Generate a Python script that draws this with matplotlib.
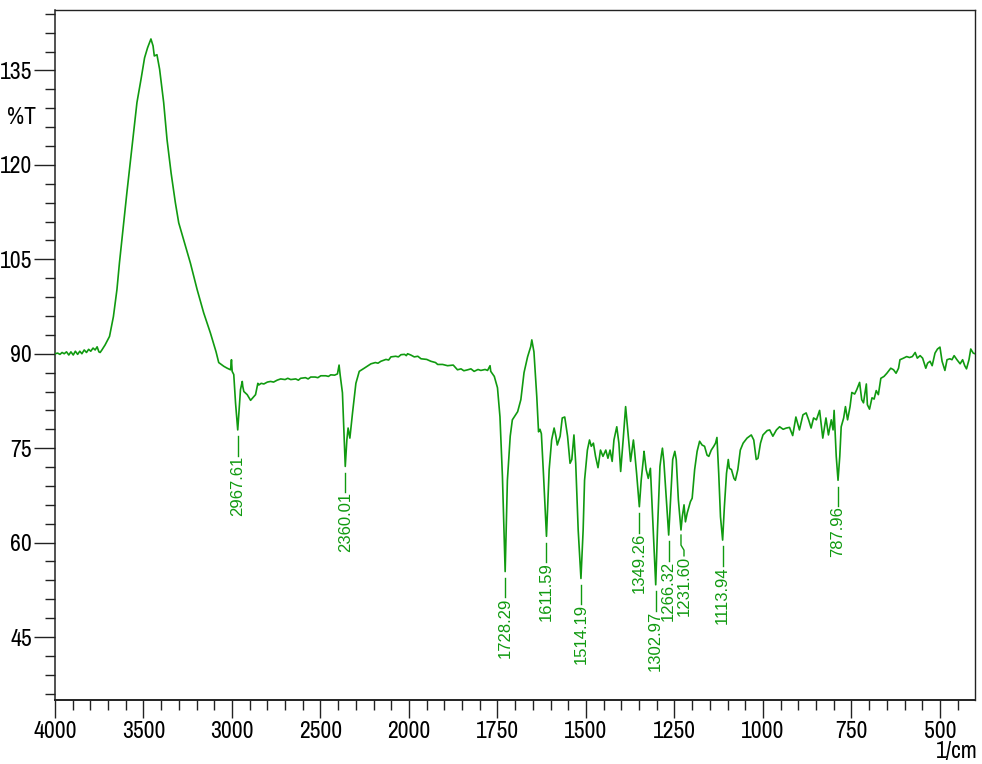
import numpy as np
import matplotlib
matplotlib.use('Agg')
import matplotlib.pyplot as plt

# ── FTIR spectrum (wavenumber in 1/cm, transmittance in %T) ──────────────────
WAVENUMBER = [
    4000, 3985, 3972, 3960, 3948, 3935, 3922, 3910, 3897, 3885, 3872, 3860,
    3848, 3835, 3822, 3810, 3798, 3785, 3773, 3762, 3752, 3745, 3735, 3717,
    3692, 3670, 3650, 3636, 3616, 3594, 3575, 3556, 3537, 3514, 3494, 3477,
    3458, 3446, 3439, 3424, 3409, 3386, 3367, 3344, 3320, 3301, 3273, 3235,
    3197, 3160, 3122, 3090, 3075, 3046, 3027, 3008, 3003, 2999, 2990, 2980,
    2967.61, 2961, 2952, 2942, 2939, 2933, 2914, 2895, 2876, 2867, 2854, 2848,
    2835, 2820, 2800, 2782, 2765, 2745, 2725, 2700, 2685, 2668, 2640, 2625,
    2612, 2585, 2570, 2555, 2530, 2515, 2498, 2470, 2455, 2442, 2420, 2404,
    2395, 2389, 2376,
    2360.01, 2351, 2344, 2334, 2319, 2300, 2281, 2253,
    2215, 2190, 2175, 2159, 2130, 2115, 2102, 2075, 2060, 2045, 2025, 2015,
    2008, 1995, 1985, 1975, 1966, 1950, 1938, 1925, 1919, 1905, 1891, 1875,
    1863, 1853, 1845, 1834, 1825, 1816, 1805, 1797, 1785, 1778,
    1771, 1769, 1759, 1750, 1743, 1736, 1728.29, 1722, 1714, 1708, 1693, 1684,
    1675, 1665, 1656, 1653, 1647, 1639, 1634, 1630, 1626, 1620, 1611.59, 1604,
    1597, 1590, 1585, 1581, 1573, 1567, 1560, 1552, 1545, 1540, 1534, 1529,
    1522, 1514.19, 1508, 1504, 1496, 1490, 1485, 1479, 1473, 1466, 1459, 1452,
    1444, 1438, 1432, 1426, 1421, 1413, 1407, 1402, 1395, 1388, 1382, 1374,
    1366, 1363, 1357, 1349.26, 1344, 1338, 1336, 1330, 1324, 1318, 1311,
    1302.97, 1298, 1291, 1287, 1284, 1280, 1273, 1266.32, 1261, 1255, 1249,
    1245, 1239, 1231.60, 1228, 1223, 1219, 1214, 1205, 1200, 1193, 1186, 1179,
    1172, 1165, 1158, 1153, 1146, 1139, 1134, 1130, 1125, 1120, 1113.94, 1109,
    1103, 1098, 1095, 1089, 1082, 1078, 1071, 1064, 1056, 1045, 1033, 1026,
    1019, 1014, 1007, 1000, 988, 981, 972, 962, 953, 943, 934, 925, 916, 907,
    897, 887, 878, 871, 864, 857, 849, 840, 831, 822, 815, 807, 802, 799, 793,
    787.96, 783, 779, 772, 767, 761, 754, 749, 741, 735, 727, 721, 716, 708,
    705, 699, 692, 686, 680, 674, 667, 658, 650, 639, 631, 624, 617, 613, 603,
    594, 586, 578, 570, 564, 556, 549, 540, 535, 528, 522, 514, 507, 500, 494,
    486, 480, 472, 466, 460, 452, 443, 436, 430, 425, 418, 413, 406, 401,
]
TRANSMITTANCE = [
    90.0, 90.1, 89.9, 90.2, 90.0, 90.3, 89.8, 90.3, 89.8, 90.4, 89.9, 90.4,
    90.0, 90.6, 90.2, 90.7, 90.4, 90.9, 90.6, 91.1, 90.3, 90.2, 90.6, 91.4,
    92.75, 95.9, 100.2, 104.4, 109.7, 115.55, 120.3, 125.1, 129.9, 133.6, 137.0, 138.6,
    140.0, 138.9, 137.3, 137.5, 135.2, 129.9, 124.0, 118.7, 114.0, 110.8, 108.1, 104.4,
    100.2, 96.5, 93.3, 90.3, 88.6, 88.0, 87.7, 87.45, 89.05, 87.2, 86.7, 82.2,
    77.9, 80.6, 84.3, 85.6, 84.8, 84.0, 83.5, 82.6, 83.2, 83.5, 85.3, 85.05,
    85.3, 85.2, 85.5, 85.6, 85.5, 85.8, 86.0, 85.9, 86.1, 85.9, 86.0, 85.8,
    86.1, 86.2, 86.0, 86.3, 86.3, 86.2, 86.5, 86.5, 86.4, 86.65, 86.6, 86.8,
    88.2, 86.65, 83.8,
    72.1, 76.3, 78.2, 76.6, 80.6, 85.3, 87.2, 87.7,
    88.4, 88.6, 88.5, 88.8, 89.1, 89.0, 89.5, 89.6, 89.5, 89.85, 89.9, 89.7,
    90.0, 89.8, 89.5, 89.6, 89.2, 89.1, 88.8, 88.6, 88.3, 88.3, 88.1, 88.2,
    87.45, 87.6, 87.3, 87.45, 87.6, 87.2, 87.5, 87.35, 87.5, 87.35,
    88.1, 87.2, 86.4, 84.6, 80.0, 70.5, 55.4, 69.9, 76.9, 79.5, 80.8, 82.7,
    87.0, 89.5, 91.15, 92.2, 90.3, 83.2, 77.6, 78.0, 77.3, 70.8, 61.0, 71.6,
    76.3, 78.2, 76.9, 75.5, 76.9, 79.8, 79.95, 76.9, 72.6, 73.2, 77.1, 72.6,
    62.0, 54.3, 62.0, 69.9, 74.7, 76.3, 75.3, 75.8, 73.7, 71.9, 74.7, 73.7,
    74.7, 73.4, 74.7, 72.9, 76.3, 78.4, 75.8, 71.3, 76.3, 81.6, 77.9, 72.9,
    76.3, 74.7, 71.0, 65.7, 69.9, 73.2, 74.5, 71.6, 70.2, 71.8, 63.1,
    53.3, 62.0, 72.1, 73.9, 75.0, 72.9, 66.8, 61.2, 66.8, 73.2, 74.5,
    73.2, 66.8, 62.0, 64.1, 66.0, 63.3, 64.7, 66.5, 67.05, 71.6, 74.5, 76.1,
    75.5, 75.3, 73.9, 73.7, 74.7, 75.3, 75.8, 76.7, 71.0, 64.1, 60.4, 65.7,
    71.0, 73.2, 71.8, 71.6, 70.2, 69.9, 71.6, 74.7, 75.8, 76.6, 77.1, 76.3,
    73.2, 73.4, 75.8, 77.1, 77.8, 77.9, 76.9, 77.9, 78.4, 78.0, 78.2, 78.3, 77.0, 79.95,
    77.9, 80.3, 80.6, 79.5, 78.2, 79.8, 79.5, 81.0, 76.6, 79.8, 77.1, 79.5, 77.9, 81.0, 73.7,
    69.9, 73.7, 78.4, 79.8, 81.6, 79.5, 81.6, 83.85, 83.6, 84.3, 85.45, 82.7, 82.2, 85.2,
    81.9, 81.2, 83.0, 82.8, 84.15, 83.5, 86.1, 86.4, 86.9, 87.7, 87.45, 86.9, 87.7, 89.05, 89.3,
    89.55, 89.4, 89.55, 90.2, 89.3, 89.7, 89.3, 87.7, 88.5, 88.8, 88.1, 90.1, 90.75, 91.05, 88.8,
    87.35, 89.05, 89.2, 89.05, 89.7, 89.05, 88.4, 89.05, 88.1, 87.6, 89.05, 90.75, 90.1, 90.0,
]
assert len(WAVENUMBER) == len(TRANSMITTANCE)

# Picked peaks (1/cm)
PEAK_WN = [2967.61, 2360.01, 1728.29, 1611.59, 1514.19, 1349.26,
           1302.97, 1266.32, 1231.60, 1113.94, 787.96]

X_MAJOR = [4000, 3500, 3000, 2500, 2000, 1750, 1500, 1250, 1000, 750, 500]
Y_MAJOR = [45, 60, 75, 90, 105, 120, 135]

GREEN = '#109a10'
AXCOL = '#222222'
TICK_FONT = ['Archivo Narrow', 'PT Sans Narrow', 'Liberation Sans', 'DejaVu Sans']
TICK_SIZE = 17


# Wavenumber axis is compressed 2:1 above 2000 1/cm
def _fwd(v):
    v = np.asarray(v, dtype=float)
    return np.where(v > 2000, 2000 + (v - 2000) / 2.0, v)


def _inv(u):
    u = np.asarray(u, dtype=float)
    return np.where(u > 2000, 2000 + (u - 2000) * 2.0, u)


wn = np.array(WAVENUMBER, dtype=float)
tr = np.array(TRANSMITTANCE, dtype=float)

fig = plt.figure(figsize=(9.82, 7.64), dpi=100)
ax = fig.add_axes([55 / 982, 1 - 700 / 764, 920 / 982, 690 / 764])

ax.set_xscale('function', functions=(_fwd, _inv))
ax.plot(wn, tr, color=GREEN, lw=1.2, zorder=3)
ax.set_xlim(4000, 401)
ax.set_ylim(35.0, 144.6)

# ticks: 100 steps on the left part, 50 steps right of 2000
x_minor = [v for v in range(3900, 2000, -100) if v % 500] + \
          [v for v in range(1950, 400, -50) if v % 250]
ax.set_xticks(X_MAJOR, [str(v) for v in X_MAJOR])
ax.set_xticks(x_minor, minor=True)
ax.set_yticks(Y_MAJOR, [str(v) for v in Y_MAJOR])
ax.set_yticks([v for v in range(36, 145, 3) if v % 15], minor=True)

ax.tick_params(axis='both', which='both', direction='out', color=AXCOL,
               width=1.0, labelcolor='black')
ax.tick_params(axis='y', which='major', length=15, pad=1.5, labelsize=TICK_SIZE)
ax.tick_params(axis='y', which='minor', length=7)
ax.tick_params(axis='x', which='major', length=13, pad=2, labelsize=TICK_SIZE)
ax.tick_params(axis='x', which='minor', length=7)
for lbl in ax.get_xticklabels() + ax.get_yticklabels():
    lbl.set_family(TICK_FONT)

for side in ('top', 'right'):
    ax.spines[side].set_color(AXCOL)
    ax.spines[side].set_linewidth(1.0)
ax.spines['left'].set_color(AXCOL)
ax.spines['left'].set_linewidth(1.1)
ax.spines['bottom'].set_color(AXCOL)
ax.spines['bottom'].set_linewidth(1.4)

# peak labels with short leaders below each minimum
t_min = np.interp(PEAK_WN, wn[::-1], tr[::-1])
text_shift = {1231.60: -8.5}
for p, tm in zip(PEAK_WN, t_min):
    xs = p + text_shift.get(p, 0.0)
    if xs != p:
        lx = [p, p, xs, xs]
        ly = [tm - 0.8, tm - 2.4, tm - 3.2, tm - 4.1]
    else:
        lx = [p, p]
        ly = [tm - 1.0, tm - 4.1]
    ax.plot(lx, ly, color=GREEN, lw=1.0, zorder=3)
    ax.text(xs, tm - 4.1, f'{p:.2f}', rotation=90, ha='center', va='top',
            color=GREEN, fontsize=12, family=['Liberation Sans', 'DejaVu Sans'])

fig.text(36 / 982, 1 - 117 / 764, '%T', ha='right', va='center',
         fontsize=TICK_SIZE, family=TICK_FONT)
fig.text(978 / 982, 1 - 752 / 764, '1/cm', ha='right', va='center',
         fontsize=TICK_SIZE, family=TICK_FONT)

fig.savefig('out.png', dpi=100)
